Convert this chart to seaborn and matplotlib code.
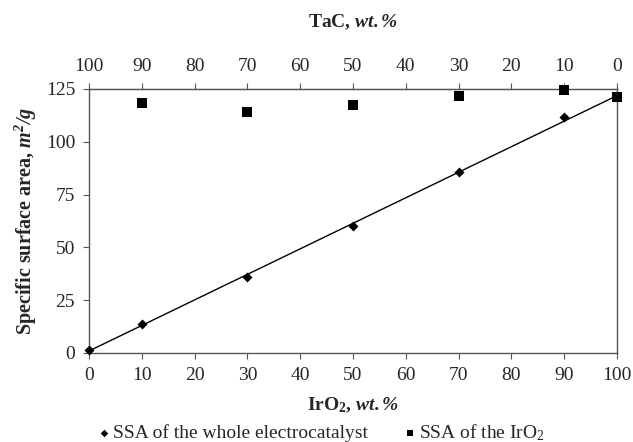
import matplotlib
matplotlib.use('Agg')
import matplotlib.pyplot as plt
import seaborn as sns
import pandas as pd

# ── Data ────────────────────────────────────────────────────
iro2_whole = [0, 10, 30, 50, 70, 90, 100]
ssa_whole  = [1.6, 13.8, 36, 60, 85.6, 111.8, 121]

iro2_only  = [10, 30, 50, 70, 90, 100]
ssa_iro2   = [118.4, 114.2, 117.5, 121.8, 124.3, 121]

x_ticks     = [0, 10, 20, 30, 40, 50, 60, 70, 80, 90, 100]
y_ticks     = [0, 25, 50, 75, 100, 125]

df_whole = pd.DataFrame({'iro2': iro2_whole, 'ssa': ssa_whole})
df_iro2  = pd.DataFrame({'iro2': iro2_only, 'ssa': ssa_iro2})

# ── Style ───────────────────────────────────────────────────
sns.set_style('ticks')
plt.rcParams['font.family'] = ['Liberation Serif', 'DejaVu Serif']
plt.rcParams['mathtext.fontset'] = 'custom'
plt.rcParams['mathtext.rm'] = 'Liberation Serif'
plt.rcParams['mathtext.it'] = 'Liberation Serif:italic'
plt.rcParams['mathtext.bf'] = 'Liberation Serif:bold'
plt.rcParams['mathtext.bfit'] = 'Liberation Serif:bold:italic'

SERIF = ['Liberation Serif', 'DejaVu Serif']
AX_COL = '#555555'

fig = plt.figure(figsize=(6.33, 4.42), dpi=100)
ax = fig.add_axes([0.1406, 0.2014, 0.8341, 0.5973])

# trend line through the whole-electrocatalyst points
sns.regplot(data=df_whole, x='iro2', y='ssa', ci=None, scatter=False, truncate=True,
            line_kws={'color': 'black', 'lw': 1.0}, ax=ax)
sns.scatterplot(data=df_whole, x='iro2', y='ssa', marker='D', s=26, color='black',
                edgecolor='black', linewidth=0, ax=ax, clip_on=False, zorder=3,
                label='SSA of the whole electrocatalyst')
sns.scatterplot(data=df_iro2, x='iro2', y='ssa', marker='s', s=42, color='black',
                edgecolor='black', linewidth=0, ax=ax, clip_on=False, zorder=4,
                label='SSA of the IrO$_2$')

ax.set_xlim(0, 100)
ax.set_ylim(0, 125)
ax.set_xticks(x_ticks)
ax.set_yticks(y_ticks)
ax.tick_params(labelsize=14, length=4, pad=6, color=AX_COL)
for lbl in ax.get_xticklabels() + ax.get_yticklabels():
    lbl.set_family(SERIF)
for sp in ax.spines.values():
    sp.set_visible(True)
    sp.set_color(AX_COL)
    sp.set_linewidth(1.0)

ax.set_xlabel(r'$\mathbf{IrO_2}$, $\mathbfit{wt.\%}$', fontsize=14, fontweight='bold',
              family=SERIF, labelpad=8)
ax.set_ylabel(r'Specific surface area, $\mathbfit{m^2/g}$', fontsize=14.5, fontweight='bold',
              family=SERIF, labelpad=5)

# top axis: TaC content
top = ax.secondary_xaxis('top', functions=(lambda x: 100 - x, lambda x: 100 - x))
top.set_xticks(x_ticks)
top.tick_params(labelsize=14, length=4, pad=6, color=AX_COL)
for lbl in top.get_xticklabels():
    lbl.set_family(SERIF)
top.spines['top'].set_color(AX_COL)
top.set_xlabel(r'TaC, $\mathbfit{wt.\%}$', fontsize=14, fontweight='bold',
               family=SERIF, labelpad=22)

handles, labels = ax.get_legend_handles_labels()
ax.get_legend().remove()
fig.legend(handles, labels, loc='center', bbox_to_anchor=(0.507, 0.022), ncol=2,
           frameon=False, prop={'family': SERIF, 'size': 14}, handletextpad=0.1,
           columnspacing=1.8, markerscale=0.75, handlelength=0.7)

fig.savefig('out.png', dpi=100)
